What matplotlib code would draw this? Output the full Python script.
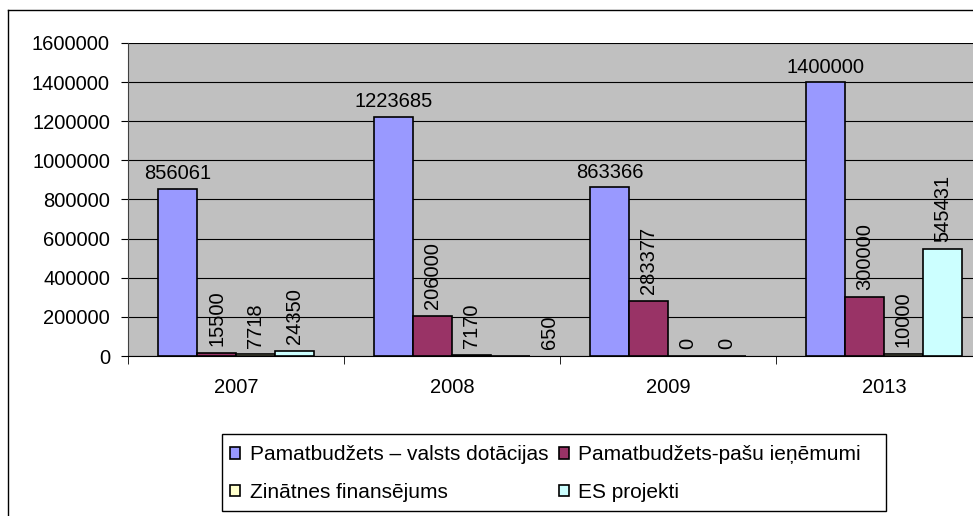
import matplotlib
matplotlib.use('Agg')
import matplotlib.pyplot as plt
import numpy as np
from matplotlib.lines import Line2D
from matplotlib.patches import Rectangle
from matplotlib.ticker import FuncFormatter

# data
years = ['2007', '2008', '2009', '2013']
dotacijas = [856061, 1223685, 863366, 1400000]
pasu_ienemumi = [15500, 206000, 283377, 300000]
zinatne = [7718, 7170, 0, 10000]
es_projekti = [24350, 650, 0, 545431]
series_names = ['Pamatbudžets – valsts dotācijas', 'Pamatbudžets-pašu ieņēmumi',
                'Zinātnes finansējums', 'ES projekti']
colors = ['#9999FF', '#993366', '#FFFFCC', '#CCFFFF']

plt.rcParams['font.family'] = ['Liberation Sans', 'DejaVu Sans']
fs = 14.5

W, H = 973, 516
fig = plt.figure(figsize=(W / 100, H / 100), dpi=100)
ax = fig.add_axes([128 / W, 160 / H, 845 / W, 313 / H])
ax.set_facecolor('#C0C0C0')

x = np.arange(len(years))
bw = 0.18
series = [dotacijas, pasu_ienemumi, zinatne, es_projekti]
# a label that was moved sideways in the original (series, year) -> points
label_shift = {(3, 1): 28}
handles = []
for i, (vals, name, c) in enumerate(zip(series, series_names, colors)):
    pos = x + (i - 1.5) * bw
    bars = ax.bar(pos, vals, bw, color=c, edgecolor='black', linewidth=1.2,
                  label=name, zorder=3)
    handles.append(bars)
    for j, (b, v) in enumerate(zip(bars, vals)):
        dx = label_shift.get((i, j), 0)
        ax.annotate(str(v), (b.get_x() + b.get_width() / 2, v),
                    xytext=(dx, 4 if i == 0 else 5), textcoords='offset points',
                    ha='center', va='bottom', fontsize=fs,
                    rotation=0 if i == 0 else 90, zorder=4)

ax.set_ylim(0, 1600000)
ax.set_yticks(np.arange(0, 1600001, 200000))
ax.yaxis.set_major_formatter(FuncFormatter(lambda v, p: '%d' % v))
ax.set_xlim(-0.5, -0.5 + 845 / 216)
ax.set_xticks(x)
ax.set_xticklabels(years)
ax.set_xticks(np.arange(-0.5, 3.5, 1), minor=True)
ax.tick_params(axis='x', which='major', length=0, pad=16, labelsize=fs)
ax.tick_params(axis='x', which='minor', length=6, color='black')
ax.tick_params(axis='y', length=5, pad=8, labelsize=fs)
ax.yaxis.grid(True, color='black', linewidth=0.8)
ax.set_axisbelow(True)
for s in ['top', 'right']:
    ax.spines[s].set_visible(False)
ax.spines['left'].set_color('#404040')
ax.spines['bottom'].set_color('black')

# outer chart frame (left and top edges visible)
fig.add_artist(Line2D([8 / W, 8 / W], [0, (H - 10) / H], color='black', lw=1,
                      transform=fig.transFigure))
fig.add_artist(Line2D([8 / W, 1], [(H - 10) / H, (H - 10) / H], color='black', lw=1,
                      transform=fig.transFigure))

# legend box, filled row by row as in the original
fig.add_artist(Rectangle((222 / W, 5 / H), 664 / W, 77 / H, fill=False,
                         edgecolor='black', lw=1, transform=fig.transFigure))
order = [0, 2, 1, 3]
fig.legend([handles[k] for k in order], [series_names[k] for k in order],
           loc='upper left', ncol=2, frameon=False,
           bbox_to_anchor=(212 / W, (H - 427) / H), fontsize=15,
           handlelength=0.48, handleheight=0.48, handletextpad=0.45,
           columnspacing=0.5, labelspacing=0.9, borderpad=0.38)

plt.savefig('out.png', dpi=100)
